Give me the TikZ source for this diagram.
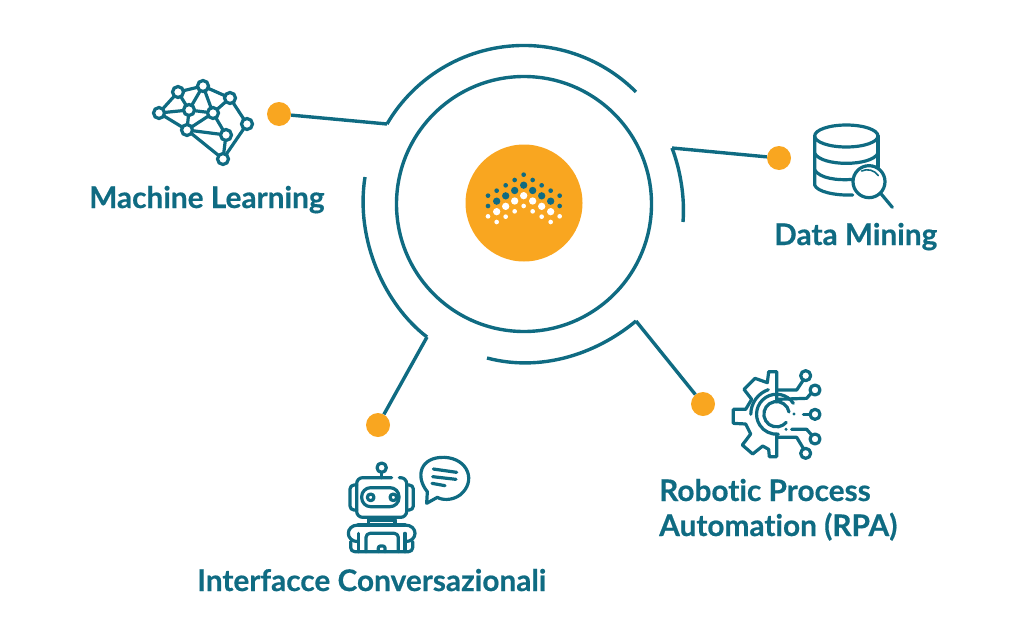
\documentclass[tikz,border=0pt]{standalone}
\usepackage{fontspec}
\setmainfont{Lato}[Ligatures=NoCommon,BoldFeatures={FakeBold=0.5}]
\definecolor{tealline}{HTML}{0F6B82}
\definecolor{dotorange}{HTML}{F9A620}
\tikzset{
  ring/.style={draw=tealline,line width=3.4pt},
  link/.style={draw=tealline,line width=3.4pt},
  icon/.style={draw=tealline,line width=3.2pt,line join=round,line cap=round},
  dotnode/.style={circle,fill=dotorange,minimum size=24pt,inner sep=0pt},
  pin/.style={circle,draw=tealline,line width=3.2pt,fill=white,minimum size=15pt,inner sep=0pt},
  caption/.style={text=tealline,font=\fontsize{29.8}{35}\selectfont\bfseries,inner sep=0pt,anchor=base west,align=left},
}
\begin{document}
\begin{tikzpicture}[x=1pt,y=-1pt]
  \useasboundingbox (0,0) rectangle (1024,632);

  %% central disc and the ring round it
  \node [circle,fill=dotorange,minimum size=117pt,inner sep=0pt] (disc) at (524,203) {};
  \draw [ring] (524,204) circle (127.5);

  %% logo dots, column by column
  \begin{scope}[shift={(450,130)},scale=1/3]
    \foreach \col/\top in {-3/182,-2/166,-1/150,0/134,1/150,2/166,3/182} {
      \pgfmathsetmacro{\xcol}{221+27*\col}
      \fill [tealline] (\xcol,\top) circle (7);
      \fill [tealline] (\xcol,\top+31.5) circle (11);
      \fill [white] (\xcol,\top+63) circle (11);
      \fill [white] (\xcol,\top+94) circle (7);
    }
    \foreach \xcol in {114,329} {
      \fill [tealline] (\xcol,197) circle (7);
      \fill [tealline] (\xcol,228) circle (7);
      \fill [white] (\xcol,259) circle (7);
    }
  \end{scope}

  %% outer arcs
  \coordinate (mlend) at (387,124);
  \coordinate (dmend) at (672,148);
  \coordinate (icend) at (427,337);
  \coordinate (rpaend) at (636,321);
  \draw [ring] (mlend) arc [start angle=-149.7,end angle=-45,radius=158.5];
  \draw [ring] (dmend) .. controls (680,169) and (685,196) .. (683,222);
  \draw [ring] (365,177) .. controls (355,240) and (385,305) .. (icend);
  \draw [ring] (487,358) .. controls (540,372) and (595,355) .. (rpaend);

  %% orange dots and their connectors
  \node [dotnode] (mldot) at (279,114) {};
  \node [dotnode] (dmdot) at (779,158) {};
  \node [dotnode] (rpadot) at (703,404) {};
  \node [dotnode] (icdot) at (378,425) {};
  \draw [link] (mldot) -- (mlend);
  \draw [link] (dmdot) -- (dmend);
  \draw [link] (rpadot) -- (rpaend);
  \draw [link] (icdot) -- (icend);

  %% captions
  \node [caption] (mltext) at (89,208) {Machine Learning};
  \node [caption] (dmtext) at (774,245) {Data Mining};
  \node [caption] (rpatext) at (659,501) {Robotic Process};
  \node [caption] (rpatextb) at (659,536) {Automation (RPA)};
  \node [caption] (ictext) at (197,591) {Interfacce Conversazionali};

  %% brain network
  \foreach \name/\xy in {n1/{159,113},n2/{178,92},n3/{203,86},n4/{230,98},n5/{247,124},n6/{226,135},n7/{223,159},n8/{187,130},n9/{189,110},n10/{213,113}}
    \coordinate (\name) at (\xy);
  \foreach \a/\b in {n1/n2,n2/n3,n3/n4,n4/n5,n5/n7,n6/n7,n6/n8,n8/n7,n1/n8,n1/n9,n2/n9,n9/n3,n9/n10,n9/n8,n3/n10,n10/n4,n10/n6,n10/n8}
    \draw [icon] (\a) -- (\b);
  \foreach \name in {n1,n2,n3,n4,n5,n6,n7,n8,n9,n10}
    \node [pin,minimum size=11pt] at (\name) {};

  %% database with magnifier
  \begin{scope}[shift={(760,110)},scale=1/3]
    \draw [icon] (259,78) ellipse [x radius=95,y radius=33];
    \draw [icon] (164,78) -- (164,225) .. controls (170,245) and (225,257) .. (278,255);
    \draw [icon] (354,78) -- (354,172);
    \draw [icon] (164,130) .. controls (185,170) and (333,170) .. (354,130);
    \draw [icon] (164,180) .. controls (180,205) and (230,212) .. (280,208);
    \draw [icon,fill=white] (327,215) circle (48);
    \draw [icon,line width=1.6pt] (305,183) .. controls (320,175) and (345,180) .. (355,197);
    \draw [icon] (362,250) -- (397,292);
  \end{scope}

  %% half gear with circuit
  \begin{scope}[shift={(680,360)},scale=1/3]
    \draw [icon] (290,125) -- (290,35) -- (266,35) -- (262,68) -- (225,55) -- (192,88) -- (215,118) -- (197,148)
      -- (160,148) -- (160,190) -- (197,192) -- (212,222) -- (187,255) -- (218,282) -- (248,258) -- (266,268)
      -- (268,290) -- (290,290) -- (290,225);
    \draw [icon] (265,89) arc [start angle=-109,end angle=-180,radius=78];
    \draw [icon] (340,130) arc [start angle=-33,end angle=-275,radius=60];
    \draw [icon] (327,156) arc [start angle=-10,end angle=-320,radius=38];
    \draw [icon] (290,90) -- (350,90) -- (370,60);
    \draw [icon] (290,118) -- (380,115) -- (393,100);
    \draw [icon] (370,163) -- (390,163);
    \draw [icon] (335,208) -- (380,208) -- (395,225);
    \draw [icon] (290,232) -- (350,232) -- (370,265);
    \fill [tealline] (342,162) circle (5);
    \fill [tealline] (318,208) circle (5);
    \foreach \xy in {{377,47},{405,90},{405,163},{405,237},{377,280}}
      \draw [icon] (\xy) circle (15);
  \end{scope}

  %% robot and speech bubble
  \begin{scope}[shift={(330,440)},scale=1/3]
    \draw [icon,rounded corners=6pt] (185,113) -- (80,113) -- (80,232) -- (230,232) -- (230,113) -- (208,113);
    \draw [icon,rounded corners=4pt] (80,135) -- (60,135) -- (60,210) -- (80,210);
    \draw [icon,rounded corners=4pt] (230,135) -- (250,135) -- (250,210) -- (230,210);
    \draw [icon] (155,83) circle (14);
    \draw [icon] (155,97) -- (155,113);
    \draw [icon,rounded corners=9pt] (95,143) rectangle (207,200);
    \draw [icon] (122,172) circle (10);
    \draw [icon] (190,172) circle (10);
    \draw [icon] (115,255) -- (115,240) -- (195,240) -- (195,255);
    \draw [icon] (85,255) -- (225,255);
    \draw [icon] (85,255) .. controls (45,255) and (45,305) .. (85,305);
    \draw [icon] (225,255) .. controls (265,255) and (265,305) .. (225,305);
    \draw [icon,rounded corners=4pt] (62,305) -- (62,335) -- (248,335) -- (248,305);
    \draw [icon] (85,280) -- (85,335);
    \draw [icon] (225,280) -- (225,335);
    \draw [icon,rounded corners=4pt] (108,335) -- (108,280) -- (205,280) -- (205,335);
    \draw [icon,rounded corners=2pt] (145,335) -- (145,318) -- (165,318) -- (165,335);
    \draw [icon] (290,190) -- (292,155) .. controls (255,110) and (270,50) .. (343,52)
      .. controls (415,55) and (440,125) .. (390,165) .. controls (365,183) and (335,180) .. (322,172) -- cycle;
    \draw [icon] (310,87) -- (380,97);
    \draw [icon] (308,110) -- (378,118);
    \draw [icon] (306,130) -- (345,137);
  \end{scope}
\end{tikzpicture}
\end{document}
